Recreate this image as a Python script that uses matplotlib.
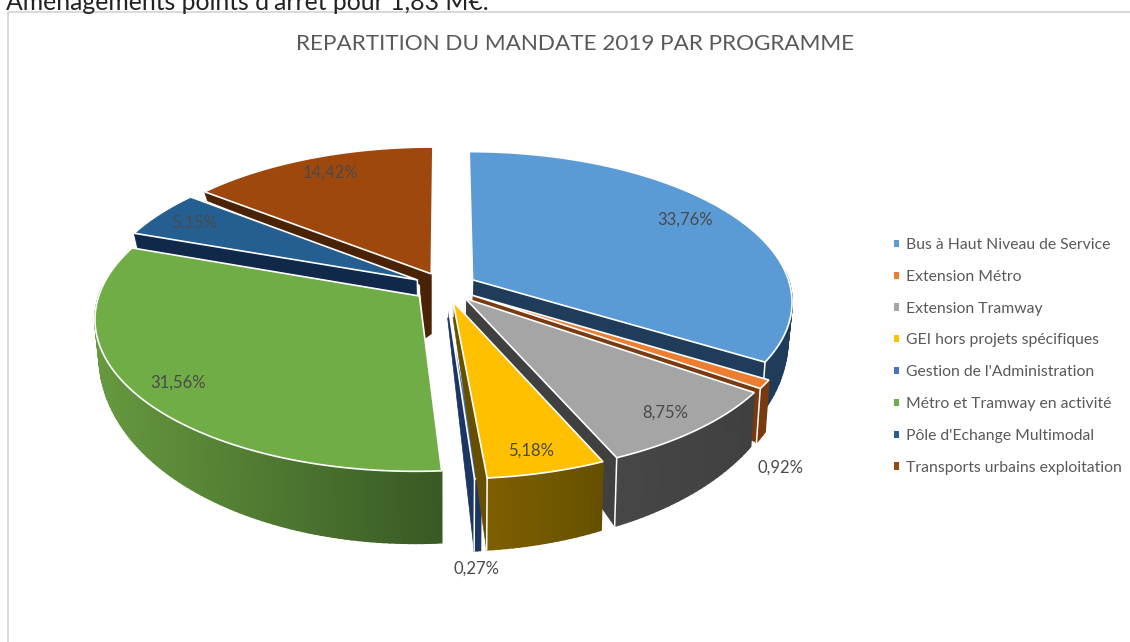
import numpy as np
import matplotlib
matplotlib.use("Agg")
import matplotlib.pyplot as plt
from matplotlib.colors import to_rgb
from matplotlib.patches import Patch

plt.rcParams["font.family"] = ["Lato", "DejaVu Sans"]

# Données
programmes = [
    "Bus à Haut Niveau de Service",
    "Extension Métro",
    "Extension Tramway",
    "GEI hors projets spécifiques",
    "Gestion de l'Administration",
    "Métro et Tramway en activité",
    "Pôle d'Echange Multimodal",
    "Transports urbains exploitation",
]
parts = [33.76, 0.92, 8.75, 5.18, 0.27, 31.56, 5.15, 14.42]

colors = ["#5B9BD5", "#ED7D31", "#A5A5A5", "#FFC000", "#4472C4", "#70AD47", "#255E91", "#9E480E"]
wall_left = ["#1F3D5A", "#7A3A10", "#474747", "#7F6000", "#1B3564", "#66993F", "#10294A", "#4A2206"]
wall_right = ["#1F3D5A", "#7A3A10", "#404040", "#665000", "#1B3564", "#395A24", "#10294A", "#4A2206"]

# position des étiquettes (pixels) et ordre de dessin
label_pos = [(685, 220), (781, 468), (665, 413), (531, 451), (477, 569), (178, 383), (194, 223), (330, 173)]
draw_order = [7, 6, 5, 0, 1, 2, 4, 3]

# géométrie de la fausse 3D
CX, CY = 445, 287
RX, RY = 318, 148
PERSP = 0.14
EXPLODE = 0.10


def to_screen(X, Y):
    s = 1 / (1 - PERSP * Y)
    return CX + RX * X * s, CY + RY * Y * s


def depth(r, Y):
    return max(9, 15 + 15 * r + 42 * Y)


fig, ax = plt.subplots(figsize=(11.3, 6.42), dpi=100)
ax.set_position([0, 0, 1, 1])
ax.set_xlim(0, 1130)
ax.set_ylim(642, 0)
ax.axis("off")

# cadre : seuls le haut et la gauche sont visibles
ax.plot([1130, 8, 8], [12, 12, 642], color="#D9D9D9", lw=1.4)
ax.text(6, 2, "Aménagements points d'arrêt pour 1,83 M€.", fontsize=17.8, color="#222222",
        ha="left", va="center")
ax.text(575, 44, "REPARTITION DU MANDATE 2019 PAR PROGRAMME", fontsize=16.2, color="#595959",
        ha="center", va="center")

bounds = np.cumsum([0] + parts) / sum(parts) * 360

for i in draw_order:
    a0, a1 = bounds[i], bounds[i + 1]
    mid = np.radians((a0 + a1) / 2)
    ox, oy = EXPLODE * np.sin(mid), -EXPLODE * np.cos(mid)
    angles = np.radians(np.linspace(a0, a1, max(int(a1 - a0), 2) + 1))
    rim_x, rim_y = np.sin(angles), -np.cos(angles)

    def top_point(X, Y):
        return to_screen(X + ox, Y + oy)

    def low_point(X, Y, r):
        x, y = top_point(X, Y)
        return CX + (x - CX) * 0.988, y + depth(r, Y)

    apex_top = top_point(0, 0)
    apex_low = low_point(0, 0, 0)

    # paroi radiale visible
    if (a0 + a1) / 2 < 180:
        edge = (rim_x[-1], rim_y[-1])
    elif a0 >= 180:
        edge = (rim_x[0], rim_y[0])
    else:
        edge = None
    if edge is not None:
        ax.fill(*zip(apex_top, top_point(*edge), low_point(*edge, 1), apex_low),
                fc=wall_right[i], ec=wall_right[i], lw=0.5, zorder=2)
        ax.plot(*zip(apex_top, apex_low), color="white", lw=1.1, zorder=2)

    # la paroi de la part 14,42% descend sous le centre
    if i == 7:
        ax.fill([apex_top[0], apex_top[0] - 12, apex_top[0] - 7, apex_top[0]],
                [apex_top[1], apex_top[1], apex_top[1] + 65, apex_top[1] + 60],
                fc=wall_right[i], ec=wall_right[i], lw=0.5, zorder=2)

    # paroi extérieure avec dégradé
    xs = [top_point(x, y)[0] for x, y in zip(rim_x, rim_y)]
    span = max(xs) - min(xs)
    for j in range(len(angles) - 1):
        if rim_y[j] < -0.05 and rim_y[j + 1] < -0.05:
            continue
        t = (xs[j] - min(xs)) / span if span else 0
        c = (1 - t) * np.array(to_rgb(wall_left[i])) + t * np.array(to_rgb(wall_right[i]))
        pts = [top_point(rim_x[j], rim_y[j]), top_point(rim_x[j + 1], rim_y[j + 1]),
               low_point(rim_x[j + 1], rim_y[j + 1], 1), low_point(rim_x[j], rim_y[j], 1)]
        ax.fill(*zip(*pts), fc=c, ec=c, lw=1.2, zorder=2)
    # arête blanche au coin de la paroi
    if edge is not None and (a0 + a1) / 2 < 180:
        ax.plot(*zip(top_point(*edge), low_point(*edge, 1)), color="white", lw=1.1, zorder=2)

    # dessus de la part
    top = [apex_top] + [top_point(x, y) for x, y in zip(rim_x, rim_y)]
    ax.fill(*zip(*top), fc=colors[i], ec="white", lw=1.2, joinstyle="miter", zorder=2)

for value, (x, y) in zip(parts, label_pos):
    ax.text(x, y, f"{value:.2f}%".replace(".", ","), fontsize=12, color="#4A4A4A",
            ha="center", va="center", zorder=3)

handles = [Patch(fc=c, ec="none") for c in colors]
ax.legend(handles, programmes, loc="upper left", bbox_to_anchor=(890.5 / 1130, 1 - 235 / 642),
          frameon=False, fontsize=11.3, labelcolor="#595959", handlelength=0.33, handleheight=0.33,
          handletextpad=0.48, labelspacing=1.133, borderaxespad=0, borderpad=0.2)

plt.savefig("out.png", dpi=100)
plt.close()
